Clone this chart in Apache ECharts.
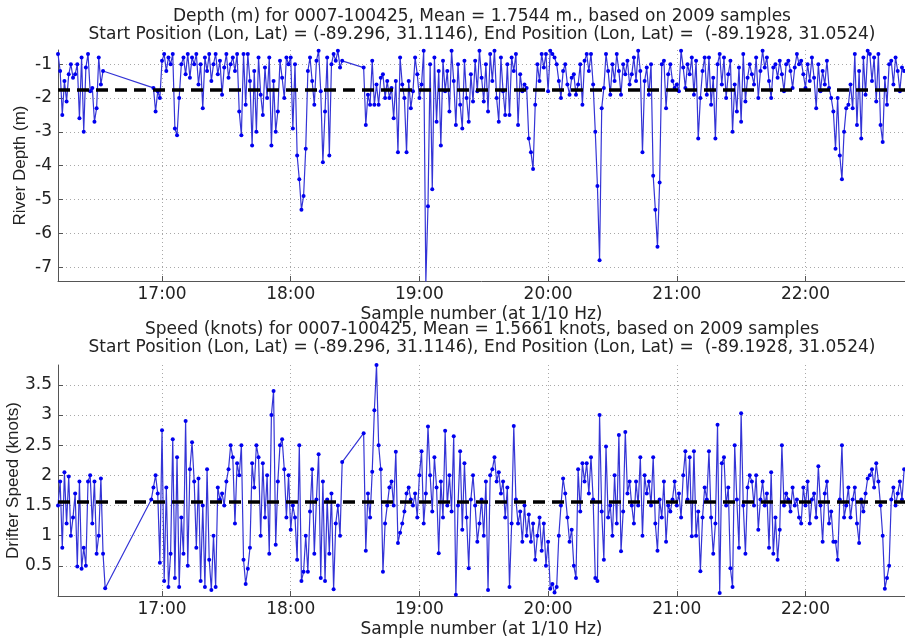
<!DOCTYPE html>
<html>
<head>
<meta charset="utf-8">
<script src="https://cdn.jsdelivr.net/npm/echarts@6/dist/echarts.min.js"></script>
<style>
  html, body { margin: 0; background: #fff; }
  #chart { width: 905px; height: 643px; }
</style>
</head>
<body>
<div id="chart"></div>
<script>
// x is minutes since midnight; one reading kept per minute of each recorded run
const xMin = 971.5;
const xMax = 1366.4;
const hourTicks = [1020, 1080, 1140, 1200, 1260, 1320];
const depthTicks = [-7, -6, -5, -4, -3, -2, -1];
const speedTicks = [0.5, 1, 1.5, 2, 2.5, 3, 3.5];

const depthMean = 1.7544;
const speedMean = 1.5661;

// river depth (m, plotted negative)
const depthRunStarts = [971.5, 1016, 1114];
const depthRun1 = [-0.7, -1.2, -2.5, -1.5, -2.1, -1.3, -1.0, -1.4, -1.3, -1.0, -2.6, -0.8, -3.0, -1.1, -0.7, -1.8, -1.7, -2.7, -2.3, -0.8, -1.6, -1.2];
const depthRun2 = [
  -1.7, -2.4, -1.8, -2.0, -0.9, -0.7, -1.2, -0.8, -1.0, -0.7, -2.9, -3.1,
  -2.0, -1.0, -0.8, -1.3, -0.7, -1.4, -0.8, -1.0, -0.7, -1.6, -1.0, -2.3,
  -0.8, -1.2, -0.7, -1.5, -1.0, -0.7, -1.3, -0.9, -1.9, -1.1, -0.7, -1.4,
  -1.0, -0.8, -1.2, -0.7, -2.4, -3.1, -0.7, -2.2, -0.7, -1.5, -3.4, -1.2,
  -3.0, -0.8, -1.9, -2.5, -1.1, -2.0, -0.8, -3.4, -1.5, -3.0, -2.4, -0.9,
  -1.4, -2.0, -0.8, -1.0, -0.8, -2.9, -1.0, -3.7, -4.4, -5.3, -4.9, -3.5, -1.2,
  -0.8, -1.5, -2.2, -0.9, -0.6, -1.8, -3.9, -2.4, -0.8, -3.7, -1.0, -0.7,
  -0.9, -0.6, -1.1, -0.9
];
const depthRun3 = [
  -1.1, -2.8, -1.9, -2.2, -0.9, -2.2, -1.6, -2.2, -1.4, -1.3,
  -2.0, -1.5, -2.0, -1.7, -2.6, -1.5, -3.6, -0.8, -1.6, -2.0,
  -3.6, -1.5, -2.3, -1.8, -0.8, -1.3, -2.0, -1.6, -0.6, -7.45,
  -5.2, -1.0, -4.7, -0.8, -2.7, -1.2, -3.4, -0.9, -1.8, -1.2,
  -2.4, -0.6, -1.5, -2.8, -1.0, -2.2, -2.9, -0.9, -2.0, -2.7,
  -1.3, -2.1, -0.9, -1.8, -0.6, -1.4, -2.1, -1.0, -2.4, -0.7,
  -1.5, -0.6, -2.0, -2.7, -0.8, -1.8, -2.5, -1.0, -2.5, -0.8,
  -1.2, -0.7, -2.8, -1.3, -1.8, -1.6, -1.7, -3.2, -3.6, -4.1,
  -2.2, -1.0, -1.5, -0.7, -1.1, -0.7, -1.8, -0.6, -0.7, -0.8,
  -1.0, -1.5, -2.0, -1.2, -1.0, -1.6, -1.9, -1.4, -1.3, -1.9,
  -1.6, -1.0, -2.2, -0.9, -0.7, -1.2, -0.7, -1.6, -3.0, -4.6,
  -6.8, -2.3, -1.7, -0.7, -1.2, -1.9, -1.0, -1.5, -0.7, -1.2,
  -1.9, -1.0, -1.3, -0.9, -1.6, -1.3, -0.8, -1.5, -0.6, -1.2,
  -3.6, -1.5, -1.1, -1.9, -1.0, -4.3, -5.3, -6.4, -4.5, -1.0,
  -0.9, -2.3, -1.3, -1.0, -1.5, -1.7, -1.6, -1.8, -0.6, -1.1,
  -1.7, -1.0, -1.3, -0.8, -1.9, -0.9, -3.2, -2.0, -1.2, -0.8,
  -1.9, -0.8, -2.2, -1.4, -3.2, -1.0, -0.7, -1.6, -0.8, -2.0,
  -1.3, -0.9, -3.0, -1.6, -2.4, -1.1, -2.7, -0.7, -2.1, -1.4,
  -1.0, -1.3, -1.6, -0.8, -2.0, -1.2, -0.6, -1.1, -0.8, -1.5,
  -2.0, -1.1, -1.0, -1.4, -0.9, -1.3, -1.8, -1.0, -0.9, -1.2,
  -1.7, -1.1, -0.7, -1.0, -0.9, -1.3, -1.7, -1.0, -1.5, -0.8,
  -1.4, -2.3, -1.0, -1.8, -1.2, -1.6, -0.9, -1.7, -2.0, -2.4,
  -3.5, -2.0, -3.7, -4.4, -3.0, -2.3, -2.2, -1.6, -2.3, -0.7,
  -2.8, -1.2, -3.2, -0.8, -1.9, -0.6, -0.7, -1.5, -0.8, -2.1,
  -0.7, -2.8, -3.3, -1.4, -2.2, -1.0, -0.9, -1.6, -0.8, -1.2,
  -1.8, -1.1, -1.2
];

// drifter speed (knots)
const speedRunStarts = [971.5, 1015, 1114];
const speedRun1 = [1.5, 1.9, 0.8, 2.05, 1.2, 1.98, 1.0, 1.3, 1.7, 0.49, 1.9, 0.45, 0.8, 0.5, 1.9, 2.0, 1.2, 1.9, 0.7, 1.0, 1.95, 0.7, 0.13];
const speedRun2 = [
  1.6, 1.8, 2.0, 1.7, 0.55, 2.75, 0.25, 1.8, 0.15, 0.7,
  2.6, 0.3, 2.3, 0.15, 1.3, 0.7, 2.9, 0.5, 2.1, 2.55,
  1.9, 0.8, 1.95, 0.25, 1.5, 0.15, 2.1, 0.6, 0.1, 1.0,
  0.15, 1.8, 1.6, 1.7, 1.5, 1.9, 2.1, 2.5, 2.3, 1.2,
  2.2, 2.0, 2.5, 0.6, 0.2, 0.45, 0.8, 2.2, 1.8, 2.5,
  2.3, 1.0, 2.2, 1.3, 2.0, 0.7, 3.0, 3.4, 0.85, 1.9,
  2.5, 2.6, 2.1, 1.3, 2.0, 1.1, 1.5, 1.3, 0.6, 2.5,
  0.25, 0.4, 1.0, 0.4, 1.4, 2.1, 0.7, 1.6, 2.35, 0.3,
  1.9, 0.25, 1.6, 0.7, 1.7, 0.11, 1.2, 1.5, 1.0, 2.22
];
const speedRun3 = [
  2.7, 0.75, 1.7, 1.3, 2.06, 3.08, 3.83, 2.5, 2.1, 0.4,
  1.2, 1.5, 1.8, 1.9, 1.5, 2.39, 0.88, 1.05, 1.2, 1.4,
  1.7, 1.8, 1.6, 1.5, 1.7, 1.3, 2.0, 2.4, 1.2, 1.7,
  2.81, 2.0, 1.4, 2.3, 1.8, 0.71, 1.9, 1.3, 2.74, 1.5,
  2.0, 1.4, 2.65, 0.02, 1.5, 2.4, 1.1, 2.2, 1.3, 0.46,
  1.6, 2.0, 1.5, 0.9, 1.2, 1.6, 1.0, 1.9, 0.1, 2.0,
  2.1, 2.3, 1.9, 2.05, 1.7, 1.9, 1.3, 1.8, 0.15, 1.2,
  2.82, 1.6, 1.2, 1.4, 0.9, 1.5, 1.0, 1.35, 0.9, 1.2,
  0.6, 1.0, 1.3, 0.75, 1.2, 0.5, 0.9, 0.12, 0.2, 0.06,
  0.15, 1.0, 1.5, 1.95, 1.7, 1.3, 0.9, 1.1, 0.5, 0.3,
  2.1, 1.4, 2.2, 1.9, 2.2, 1.7, 2.3, 1.6, 0.3, 0.25,
  3.0, 1.4, 0.6, 2.48, 1.3, 1.5, 1.0, 2.0, 1.2, 2.67,
  0.74, 1.4, 2.72, 1.7, 1.9, 1.5, 1.2, 1.9, 1.5, 2.3,
  1.0, 2.0, 1.7, 1.9, 1.5, 2.3, 1.2, 0.75, 1.6, 1.3,
  1.9, 0.9, 1.5, 1.4, 1.6, 1.9, 1.5, 1.7, 1.3, 2.0,
  2.4, 1.6, 2.3, 0.99, 2.4, 1.0, 1.4, 0.41, 1.3, 1.8,
  1.6, 2.4, 1.3, 0.7, 1.2, 2.84, 0.05, 2.2, 2.3, 1.5,
  1.8, 0.46, 0.15, 2.5, 1.6, 0.8, 3.03, 1.5, 0.7, 1.8,
  2.0, 1.9, 1.5, 2.0, 1.1, 1.6, 1.9, 1.5, 1.7, 0.8,
  2.05, 0.7, 1.3, 0.6, 1.1, 2.5, 1.5, 1.7, 1.6, 1.4,
  1.8, 1.5, 1.6, 1.3, 1.2, 1.8, 1.5, 1.9, 1.2, 1.6,
  1.7, 1.3, 2.15, 1.5, 0.9, 1.7, 1.9, 1.2, 1.4, 0.9,
  0.9, 0.6, 1.6, 2.5, 1.3, 1.5, 1.8, 1.3, 1.6, 1.8,
  1.2, 0.88, 1.6, 1.4, 1.7, 1.95, 2.0, 2.1, 1.8, 2.2,
  1.9, 1.5, 1.0, 0.12, 0.3, 0.5, 1.6, 1.8, 1.5, 1.7,
  1.9, 1.6, 2.1
];

const depthTitle = [
  'Depth (m) for 0007-100425, Mean = ' + depthMean + ' m., based on 2009 samples',
  'Start Position (Lon, Lat) = (-89.296, 31.1146), End Position (Lon, Lat) =  (-89.1928, 31.0524)'
];
const speedTitle = [
  'Speed (knots) for 0007-100425, Mean = ' + speedMean + ' knots, based on 2009 samples',
  'Start Position (Lon, Lat) = (-89.296, 31.1146), End Position (Lon, Lat) =  (-89.1928, 31.0524)'
];

function toPairs(starts, runs) {
  const out = [];
  runs.forEach((run, r) => run.forEach((v, i) => out.push([starts[r] + i, v])));
  return out;
}

function hhmm(v) {
  const h = Math.floor(v / 60);
  const m = Math.round(v - h * 60);
  return h + ':' + (m < 10 ? '0' : '') + m;
}

const textFont = 'DejaVu Sans';
const nameFont = 'Liberation Sans';
const gridLine = { show: true, lineStyle: { color: '#a8a8a8', type: [1, 3], width: 1 } };
const axisLine = { show: true, lineStyle: { color: '#555', width: 1 } };

function xAxisFor(gridIndex) {
  return {
    type: 'value', gridIndex, min: xMin, max: xMax,
    name: 'Sample number (at 1/10 Hz)', nameLocation: 'middle', nameGap: 25,
    nameMoveOverlap: false,
    nameTextStyle: { fontFamily: textFont, fontSize: 17, color: '#222' },
    axisLine,
    axisTick: { show: true, inside: true, length: 5, customValues: hourTicks, lineStyle: { color: '#555' } },
    axisLabel: { customValues: hourTicks, formatter: hhmm, margin: 5, fontFamily: textFont, fontSize: 17, color: '#222' },
    splitLine: gridLine
  };
}

function yAxisFor(gridIndex, min, max, ticks, name, gap) {
  return {
    type: 'value', gridIndex, min, max,
    name, nameLocation: 'middle', nameGap: gap,
    nameMoveOverlap: false,
    nameTextStyle: { fontFamily: nameFont, fontSize: 17, color: '#222' },
    axisLine,
    axisTick: { show: true, inside: true, length: 5, customValues: ticks, lineStyle: { color: '#555' } },
    axisLabel: { customValues: ticks, margin: 6, fontFamily: textFont, fontSize: 17, color: '#222' },
    splitLine: gridLine
  };
}

function meanLine(y) {
  return {
    silent: true, symbol: 'none', label: { show: false },
    lineStyle: { color: '#000', width: 3.5, type: [12, 7] },
    data: [{ yAxis: y }]
  };
}

function trace(index, data, mean) {
  return {
    type: 'line', xAxisIndex: index, yAxisIndex: index, data,
    symbol: 'circle', symbolSize: 4, showSymbol: true,
    lineStyle: { color: '#3434d6', width: 1.2 },
    itemStyle: { color: '#0000f0' },
    markLine: meanLine(mean)
  };
}

const chart = echarts.init(document.getElementById('chart'));
chart.setOption({
  animation: false,
  backgroundColor: '#fff',
  title: [
    { text: depthTitle.join('\n'), left: 482, top: 7, textAlign: 'center', padding: 0,
      textStyle: { fontFamily: textFont, fontSize: 17, fontWeight: 'normal', color: '#222', lineHeight: 18.5 } },
    { text: speedTitle.join('\n'), left: 482, top: 321, textAlign: 'center', padding: 0,
      textStyle: { fontFamily: textFont, fontSize: 17, fontWeight: 'normal', color: '#222', lineHeight: 18 } }
  ],
  grid: [
    { left: 58, right: 0, top: 50, height: 231, containLabel: false, outerBoundsMode: 'none' },
    { left: 58, right: 0, top: 365, height: 231, containLabel: false, outerBoundsMode: 'none' }
  ],
  xAxis: [xAxisFor(0), xAxisFor(1)],
  yAxis: [
    yAxisFor(0, -7.41, -0.58, depthTicks, 'River Depth (m)', 29),
    yAxisFor(1, 0, 3.83, speedTicks, 'Drifter Speed (knots)', 36)
  ],
  series: [
    trace(0, toPairs(depthRunStarts, [depthRun1, depthRun2, depthRun3]), -depthMean),
    trace(1, toPairs(speedRunStarts, [speedRun1, speedRun2, speedRun3]), speedMean)
  ]
});
</script>
</body>
</html>
